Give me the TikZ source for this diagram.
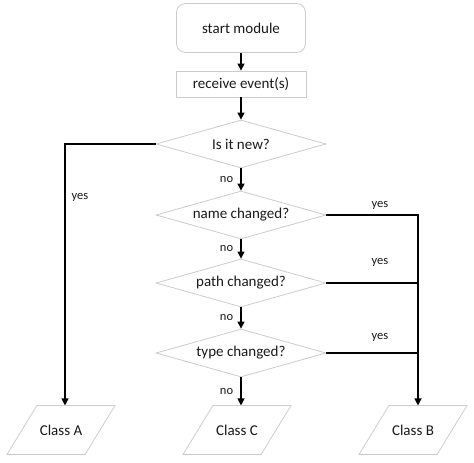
\documentclass[tikz,border=0pt]{standalone}
\usepackage{fontspec}
\setmainfont{Carlito}
\usetikzlibrary{shapes.geometric,arrows.meta}

\begin{document}
\begin{tikzpicture}[x=1pt,y=-1pt,line width=1.1pt]
\tikzstyle{every node}=[text=black!90,font=\fontsize{15}{17}\selectfont]
\tikzstyle{startbox}=[draw=black!20,line width=0.8pt,rounded corners=9pt,minimum width=129pt,minimum height=49pt]
\tikzstyle{procbox}=[draw=black!20,line width=0.8pt,minimum width=130pt,minimum height=26pt]
\tikzstyle{decision}=[diamond,aspect=3.5,draw=black!20,line width=0.8pt,inner sep=0pt,minimum width=170pt,minimum height=48pt]
\tikzstyle{classbox}=[minimum width=77pt,minimum height=48pt,inner sep=0pt]
\tikzstyle{flow}=[-{Triangle[width=7pt,length=7pt]}]
\tikzstyle{lbl}=[font=\fontsize{12.5}{14}\selectfont]
    \useasboundingbox (0,0) rectangle (474,463);
    % main column
    \node (start) [startbox] at (241,28) {start module};
    \node (recv) [procbox] at (241,84) {receive event(s)};
    \node (isnew) [decision] at (241,144) {Is it new?};
    \node (name) [decision] at (241,215) {name changed?};
    \node (path) [decision] at (241,283) {path changed?};
    \node (type) [decision] at (241,353) {type changed?};
    % outcomes
    \node (clsA) [classbox] at (61,430) {Class A};
    \node (clsC) [classbox] at (237,430) {Class C};
    \node (clsB) [classbox] at (413,430) {Class B};
    \foreach \n in {clsA,clsC,clsB}
        \draw[draw=black!20,line width=0.8pt] ([xshift=15pt]\n.north west) -- ([xshift=15pt]\n.north east)
            -- ([xshift=-15pt]\n.south east) -- ([xshift=-15pt]\n.south west) -- cycle;
    \coordinate (cA) at (65,0);
    \coordinate (cB) at (418,0);
    % connectors
    \draw[flow] (start) -- (recv);
    \draw[flow] (recv) -- (isnew);
    \draw[flow] (isnew) -- node[lbl,left=4pt] {no} (name);
    \draw[flow] (name) -- node[lbl,left=4pt] {no} (path);
    \draw[flow] (path) -- node[lbl,left=4pt] {no} (type);
    \draw[flow] (type.south) -- node[lbl,left=4pt] {no} (type.south |- clsC.north);
    \draw[flow] (isnew.west) -| (cA |- clsA.north);
    \draw[flow] (name.east) -| (cB |- clsB.north);
    \draw (path.east) -- (cB |- path.east);
    \draw (type.east) -- (cB |- type.east);
    % branch labels
    \node[lbl] at (80,197) {yes};
    \node[lbl] at (380,205) {yes};
    \node[lbl] at (380,262) {yes};
    \node[lbl] at (380,337) {yes};
\end{tikzpicture}
\end{document}
